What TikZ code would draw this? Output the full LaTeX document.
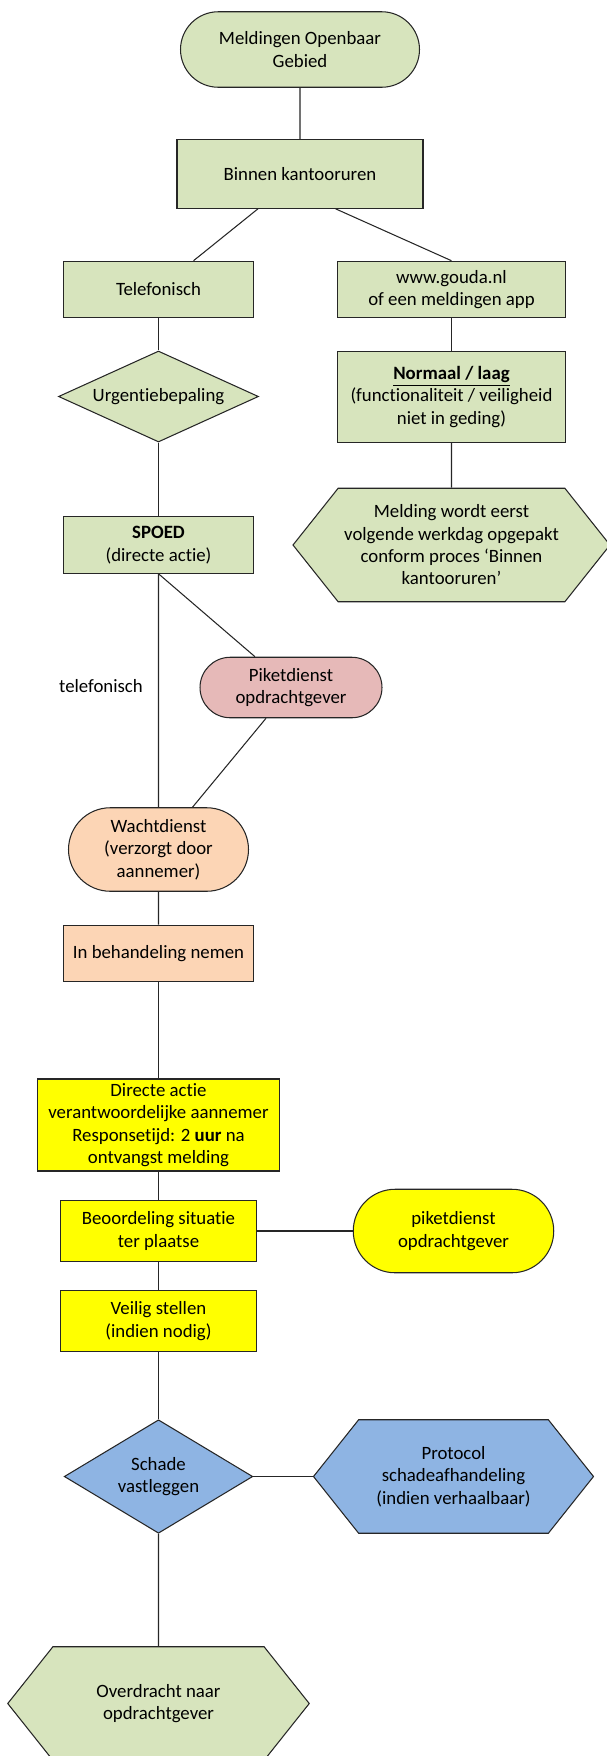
\documentclass[tikz,border=0pt]{standalone}
\usepackage{fontspec}
\setmainfont{Carlito}[Ligatures={TeX,NoCommon}]
\usetikzlibrary{shapes.geometric,shapes.misc,shapes.symbols}
\definecolor{greencol}{HTML}{D7E4BD}
\definecolor{pinkcol}{HTML}{E6B9B8}
\definecolor{peachcol}{HTML}{FCD5B5}
\definecolor{yellowcol}{HTML}{FFFF00}
\definecolor{bluecol}{HTML}{8EB4E3}
\definecolor{linecol}{HTML}{262626}

\begin{document}
\begin{tikzpicture}[
  font=\fontsize{10.7}{12.7}\selectfont,
  box/.style={draw=linecol, line width=0.6pt, align=center, inner sep=2pt},
  procnode/.style={box, rectangle, fill=#1},
  termnode/.style={box, rounded rectangle, fill=#1},
  decnode/.style={box, diamond, inner sep=0pt, fill=#1},
  hexnode/.style={box, signal, signal to=west and east, signal pointer angle=103, fill=#1},
  conn/.style={draw=linecol, line width=0.6pt},
  plainlabel/.style={align=center, inner sep=1pt},
]
\useasboundingbox (0,0) rectangle (12.12,-35.12);

\node[termnode=greencol, minimum width=4.92cm, minimum height=1.51cm] (START)  at (6.00,-0.99)  {Meldingen Openbaar\\Gebied};
\node[procnode=greencol, minimum width=4.92cm, minimum height=1.37cm] (BINNEN) at (6.00,-3.48)  {Binnen kantooruren};
\node[procnode=greencol, minimum width=3.79cm, minimum height=1.13cm] (TEL)    at (3.17,-5.79)  {Telefonisch};
\node[procnode=greencol, minimum width=4.55cm, minimum height=1.13cm] (WEB)    at (9.03,-5.79)  {www.gouda.nl\\of een meldingen app};
\node[decnode=greencol,  aspect=2.2, minimum width=4.00cm, minimum height=1.82cm] (URG) at (3.17,-7.93) {Urgentiebepaling};
\node[procnode=greencol, minimum width=4.55cm, minimum height=1.82cm] (NORM)   at (9.03,-7.94)  {\underline{\textbf{Normaal / laag}}\\(functionaliteit / veiligheid\\niet in geding)};
\node[hexnode=greencol,  minimum width=6.34cm, minimum height=2.27cm] (MELD)   at (9.03,-10.90) {Melding wordt eerst\\volgende werkdag opgepakt\\conform proces ‘Binnen\\kantooruren’};
\node[procnode=greencol, minimum width=3.79cm, minimum height=1.13cm] (SPOED)  at (3.17,-10.90) {\textbf{SPOED}\\(directe actie)};

\node[termnode=pinkcol,  minimum width=3.78cm, minimum height=1.21cm] (PIKET)  at (5.82,-13.75) {Piketdienst\\opdrachtgever};
\node[plainlabel] (TELLBL) at (2.02,-13.73) {telefonisch};
\node[termnode=peachcol, minimum width=3.74cm, minimum height=1.67cm] (WACHT)  at (3.17,-16.99) {Wachtdienst\\(verzorgt door\\aannemer)};
\node[procnode=peachcol, minimum width=3.79cm, minimum height=1.13cm] (BEH)    at (3.17,-19.07) {In behandeling nemen};

\node[procnode=yellowcol, minimum width=4.83cm, minimum height=1.84cm] (ACTIE)  at (3.17,-22.50) {Directe actie\\verantwoordelijke aannemer\\Responsetijd: 2 \textbf{uur} na\\ontvangst melding};
\node[procnode=yellowcol, minimum width=3.93cm, minimum height=1.21cm] (BEOORD) at (3.17,-24.62) {Beoordeling situatie\\ter plaatse};
\node[termnode=yellowcol, minimum width=4.15cm, minimum height=1.67cm] (PIKETB) at (9.07,-24.62) {piketdienst\\opdrachtgever};
\node[procnode=yellowcol, minimum width=3.93cm, minimum height=1.23cm] (VEILIG) at (3.17,-26.42) {Veilig stellen\\(indien nodig)};

\node[decnode=bluecol, aspect=1.66, minimum width=3.77cm, minimum height=2.27cm] (SCHADE) at (3.17,-29.53) {Schade\\vastleggen};
\node[hexnode=bluecol,  minimum width=5.60cm, minimum height=2.27cm] (PROT)   at (9.07,-29.53) {Protocol\\schadeafhandeling\\(indien verhaalbaar)};
\node[hexnode=greencol, minimum width=6.03cm, minimum height=2.27cm] (OVER)   at (3.17,-34.07) {Overdracht naar\\opdrachtgever};

% straight links
\foreach \src/\dst in {START/BINNEN, TEL/URG, URG/SPOED, WEB/NORM, NORM/MELD,
                       SPOED/WACHT, WACHT/BEH, BEH/ACTIE, ACTIE/BEOORD,
                       BEOORD/VEILIG, VEILIG/SCHADE, SCHADE/OVER}{
  \draw[conn] (\src) -- (\dst);
}
\draw[conn] (BEOORD.east) -- (PIKETB.west);
\draw[conn] (SCHADE.east) -- (PROT.west);

% slanted links
\draw[conn] ([xshift=-0.84cm]BINNEN.south) -- ([xshift=0.70cm]TEL.north);
\draw[conn] ([xshift=0.71cm]BINNEN.south)  -- (WEB.north);
\draw[conn] (SPOED.south) -- ([xshift=-0.72cm]PIKET.north);
\draw[conn] ([xshift=-0.50cm]PIKET.south) -- ([xshift=0.68cm]WACHT.north);

\end{tikzpicture}
\end{document}
